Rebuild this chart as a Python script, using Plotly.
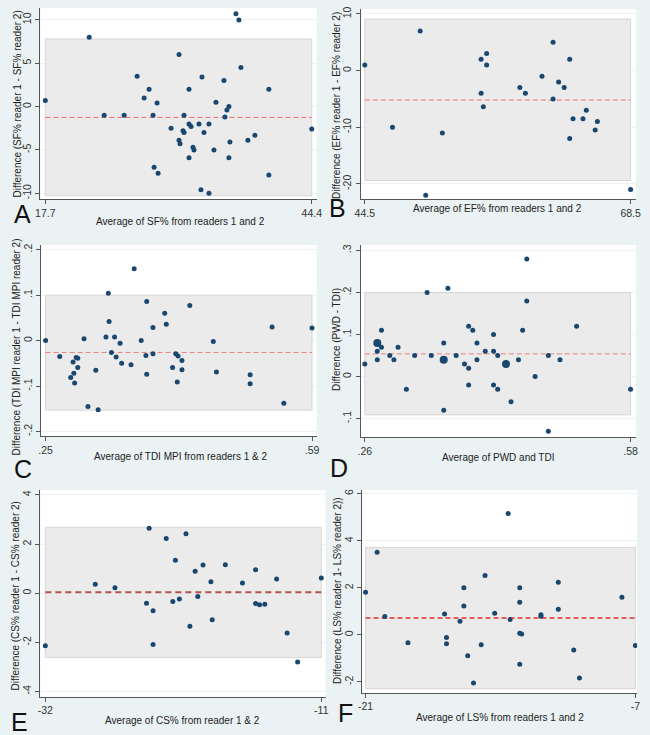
import plotly.graph_objects as go

# ---------------- data ----------------
# Panel A: SF%
a_x = [17.7, 22.1, 23.6, 25.6, 26.9, 27.6, 28.1, 28.5, 28.9, 28.6, 29.0, 30.3, 31.1, 31.1, 31.2, 31.5, 31.6, 31.6, 32.1, 32.1,
       32.3, 32.1, 32.5, 32.6, 33.1, 33.4, 33.3, 33.6, 34.1, 34.1, 34.6, 34.8, 35.6, 35.7, 35.9, 36.1, 36.2, 36.1, 36.8, 37.1,
       37.3, 38.0, 38.7, 40.1, 40.1, 44.4]
a_y = [0.7, 8.0, -1.0, -1.0, 3.5, 1.0, 2.0, -1.0, 0.4, -7.0, -7.7, -2.5, 6.0, -3.9, -4.3, -2.8, -3.0, -1.0, 2.0, -2.0,
       -2.3, -5.9, -4.7, -5.0, -2.0, 3.4, -9.6, -3.0, -2.0, -10.0, -5.0, 0.5, 3.0, -1.2, -0.4, 0.0, -4.1, -5.9, 10.7, 10.0,
       4.5, -3.9, -3.3, 2.0, -7.9, -2.6]
a_stats = [-10.3, -1.25, 7.8]          # lower LoA, mean, upper LoA
a_xticks = [17.7, 44.4]
a_xticktext = ["17.7", "44.4"]
a_yticks = [-10, -5, 0, 5, 10]
a_yticktext = ["-10", "-5", "0", "5", "10"]

# Panel B: EF%
b_x = [44.5, 47.0, 49.5, 50.0, 51.5, 55.0, 55.0, 55.2, 55.5, 55.5, 58.5, 59.0, 60.5, 61.5, 61.5, 62.0, 62.5, 63.0, 63.0, 63.3,
       64.2, 64.5, 65.3, 65.5, 68.5]
b_y = [1, -10, 7, -22, -11, 2, -4, -6.4, 3, 1, -3, -4, -1, 5, -5, -2, -3, 2, -12, -8.5,
       -8.5, -7, -10.5, -9, -21]
b_stats = [-19.4, -5.2, 9.1]
b_xticks = [44.5, 68.5]
b_xticktext = ["44.5", "68.5"]
b_yticks = [-20, -10, 0, 10]
b_yticktext = ["-20", "-10", "0", "10"]

# Panel C: TDI MPI
c_x = [.250, .268, .282, .285, .286, .287, .289, .291, .291, .299, .304, .314, .317, .327, .330, .331, .334, .338, .340, .345,
       .347, .359, .363, .372, .378, .379, .379, .387, .387, .402, .404, .412, .416, .418, .419, .424, .424, .434, .464, .468,
       .511, .511, .539, .554, .590]
c_y = [0, -.035, -.081, -.047, -.072, -.093, -.037, -.039, -.059, .004, -.145, -.065, -.152, .008, .104, .042, -.026, .008, -.036, -.006,
       -.050, -.053, .158, 0, -.033, .086, -.074, .029, -.029, .060, .036, -.059, -.029, -.091, -.034, -.044, -.064, .077, -.002, -.069,
       -.075, -.095, .030, -.138, .028]
c_stats = [-.153, -.026, .100]
c_xticks = [.25, .59]
c_xticktext = [".25", ".59"]
c_yticks = [-.2, -.1, 0, .1, .2]
c_yticktext = ["-.2", "-.1", "0", ".1", ".2"]

# Panel D: PWD vs TDI (d_n = number of coinciding observations)
d_x = [.260, .275, .275, .275, .280, .280, .290, .295, .300, .310, .320, .335, .340, .355, .355, .355, .360, .370, .380, .385,
       .385, .385, .390, .395, .395, .405, .415, .415, .415, .420, .420, .430, .436, .445, .450, .455, .455, .465, .481, .481,
       .495, .515, .580]
d_y = [.03, .08, .06, .04, .11, .07, .05, .04, .07, -.03, .05, .20, .05, .04, .08, -.08, .21, .05, .03, .12,
       .02, -.02, .11, .08, .04, .06, .10, .06, -.02, .05, -.03, .03, -.06, .04, .11, .28, .18, 0, .05, -.13,
       .04, .12, -.03]
d_n = [1, 2, 1, 1, 1, 1, 1, 1, 1, 1, 1, 1, 1, 2, 1, 1, 1, 1, 1, 1,
       1, 1, 1, 1, 1, 1, 1, 1, 1, 1, 1, 2, 1, 1, 1, 1, 1, 1, 1, 1,
       1, 1, 1]
d_stats = [-.091, .054, .200]
d_xticks = [.26, .58]
d_xticktext = [".26", ".58"]
d_yticks = [-.1, 0, .1, .2, .3]
d_yticktext = ["-.1", "0", ".1", ".2", ".3"]

# Panel E: CS%
e_x = [-32.0, -28.2, -26.7, -24.3, -24.1, -23.8, -23.8, -22.8, -22.3, -22.1, -21.8, -21.3, -21.0, -20.6, -20.4, -20.0, -19.4, -19.3,
       -18.3, -17.0, -16.0, -16.0, -15.7, -15.3, -14.4, -13.6, -12.8, -11.0]
e_y = [-2.14, 0.36, 0.22, -0.41, 2.64, -0.72, -2.09, 2.23, -0.34, 1.34, -0.24, 2.42, -1.35, 0.89, -0.14, 1.15, 0.47, -1.08,
       1.16, 0.41, 0.95, -0.42, -0.47, -0.45, 0.58, -1.62, -2.80, 0.62]
e_stats = [-2.62, 0.04, 2.68]
e_xticks = [-32, -11]
e_xticktext = ["-32", "-11"]
e_yticks = [-4, -2, 0, 2, 4]
e_yticktext = ["-4", "-2", "0", "2", "4"]

# Panel F: LS%
f_x = [-21.0, -20.4, -20.0, -18.8, -16.9, -16.8, -16.8, -16.1, -15.9, -15.9, -15.7, -15.4, -15.0, -14.8, -14.3, -13.6, -13.5,
       -13.0, -13.0, -13.0, -13.0, -12.9, -11.9, -11.9, -11.0, -11.0, -10.2, -9.9, -7.7, -7.0]
f_y = [1.81, 3.51, 0.78, -0.34, 0.88, -0.38, -0.11, 0.58, 2.0, 1.23, -0.89, -2.05, -0.42, 2.52, 0.92, 5.16, 0.65,
       2.0, 1.39, -1.25, 0.07, 0.03, 0.85, 0.79, 2.24, 1.09, -0.65, -1.84, 1.60, -0.45]
f_stats = [-2.29, 0.72, 3.72]
f_xticks = [-21, -7]
f_xticktext = ["-21", "-7"]
f_yticks = [-2, 0, 2, 4, 6]
f_yticktext = ["-2", "0", "2", "4", "6"]

# ---------------- styling / layout ----------------
W, H = 650, 735
BG = "#EAF2F3"
NAVY = "#1A476F"
FONT = "Liberation Sans, Arial, sans-serif"
TITLE_SIZE = 10
TICK_SIZE = 10.5


def px_x(p):
    return p / W


def px_y(p):
    return 1 - p / H


panels = [
    dict(letter="A", x=a_x, y=a_y, n=None, stats=a_stats, xt=a_xticks, xtt=a_xticktext, yt=a_yticks, ytt=a_yticktext,
         dom=(35, 316, 5, 197), xr=(17.21, 44.89), yr=(-10.69, 11.38),
         xtitle="Average of SF% from readers 1 and 2", xtp=(177, 219),
         ytitle="Difference (SF% reader 1 - SF% reader 2)", ytp=(12, 101), lp=(17, 212),
         line=dict(color="#EC6A6A", width=1, dash="5px,3px")),
    dict(letter="B", x=b_x, y=b_y, n=None, stats=b_stats, xt=b_xticks, xtt=b_xticktext, yt=b_yticks, ytt=b_yticktext,
         dom=(360.7, 641, 6, 197), xr=(44.12, 69.0), yr=(-22.7, 10.88),
         xtitle="Average of EF% from readers 1 and 2", xtp=(500, 206),
         ytitle="Difference (EF% reader 1 - EF% reader 2)", ytp=(336, 103), lp=(337, 206),
         line=dict(color="#EC6A6A", width=1, dash="5px,3px")),
    dict(letter="C", x=c_x, y=c_y, n=None, stats=c_stats, xt=c_xticks, xtt=c_xticktext, yt=c_yticks, ytt=c_yticktext,
         dom=(35.7, 316, 243, 435), xr=(.2442, .5959), yr=(-.2103, .2103),
         xtitle="Average of TDI MPI from readers 1 & 2", xtp=(177, 455),
         ytitle="Difference (TDI MPI reader 1 - TDI MPI reader 2)", ytp=(11, 345), lp=(17, 468),
         line=dict(color="#EC7C7C", width=1, dash="5px,3px")),
    dict(letter="D", x=d_x, y=d_y, n=d_n, stats=d_stats, xt=d_xticks, xtt=d_xticktext, yt=d_yticks, ytt=d_yticktext,
         dom=(360.7, 641, 243, 435.7), xr=(.2549, .5867), yr=(-.1436, .313),
         xtitle="Average of PWD and TDI", xtp=(500, 456),
         ytitle="Difference (PWD - TDI)", ytp=(336, 338), lp=(339, 467),
         line=dict(color="#EC7C7C", width=1, dash="5px,3px")),
    dict(letter="E", x=e_x, y=e_y, n=None, stats=e_stats, xt=e_xticks, xtt=e_xticktext, yt=e_yticks, ytt=e_yticktext,
         dom=(35, 325, 489, 696.7), xr=(-32.374, -10.68), yr=(-4.22, 4.2),
         xtitle="Average of CS% from reader 1 & 2", xtp=(180, 720),
         ytitle="Difference (CS% reader 1 - CS% reader 2)", ytp=(10, 595), lp=(14, 722),
         line=dict(color="#B4524E", width=2, dash="6px,4px")),
    dict(letter="F", x=f_x, y=f_y, n=None, stats=f_stats, xt=f_xticks, xtt=f_xticktext, yt=f_yticks, ytt=f_yticktext,
         dom=(362.3, 642, 489, 692.7), xr=(-21.175, -6.91), yr=(-2.47, 6.16),
         xtitle="Average of LS% from readers 1 and 2", xtp=(502, 717),
         ytitle="Difference (LS% reader 1- LS% reader 2))", ytp=(337, 590), lp=(345, 713),
         line=dict(color="#E0302C", width=1.5, dash="5px,3px")),
]

fig = go.Figure()
layout = dict(
    width=W, height=H,
    margin=dict(l=0, r=0, t=0, b=0),
    paper_bgcolor=BG, plot_bgcolor="white",
    showlegend=False,
    font=dict(family=FONT, color="#333", size=11),
)
annotations = []

for i, p in enumerate(panels, start=1):
    xa = "x" if i == 1 else f"x{i}"
    ya = "y" if i == 1 else f"y{i}"
    lo, mean, hi = p["stats"]
    xmin, xmax = min(p["x"]), max(p["x"])

    # limits-of-agreement band
    fig.add_trace(go.Scatter(
        x=[xmin, xmax, xmax, xmin, xmin], y=[lo, lo, hi, hi, lo],
        mode="lines", fill="toself", fillcolor="#EBEBEB",
        line=dict(color="#D6D6D6", width=1), xaxis=xa, yaxis=ya, hoverinfo="skip"))
    # mean difference line
    fig.add_trace(go.Scatter(
        x=[xmin, xmax], y=[mean, mean], mode="lines",
        line=p["line"], xaxis=xa, yaxis=ya, hoverinfo="skip"))
    # observations
    sizes = 5 if p["n"] is None else [5 if k == 1 else 8 for k in p["n"]]
    fig.add_trace(go.Scatter(
        x=p["x"], y=p["y"], mode="markers",
        marker=dict(color=NAVY, size=sizes, opacity=1, line=dict(width=0)),
        xaxis=xa, yaxis=ya))

    x0, x1, y0, y1 = p["dom"]
    axis_common = dict(
        showline=True, linecolor="#555555", linewidth=1,
        ticks="outside", ticklen=4, tickcolor="#555555", tickwidth=1,
        zeroline=False, mirror=False,
        tickfont=dict(family=FONT, size=TICK_SIZE, color="#333"),
    )
    layout["xaxis" if i == 1 else f"xaxis{i}"] = dict(
        axis_common, domain=[px_x(x0), min(px_x(x1), 1)], range=list(p["xr"]),
        anchor=ya, tickmode="array", tickvals=p["xt"], ticktext=p["xtt"],
        showgrid=False)
    layout["yaxis" if i == 1 else f"yaxis{i}"] = dict(
        axis_common, domain=[px_y(y1), px_y(y0)], range=list(p["yr"]),
        anchor=xa, tickmode="array", tickvals=p["yt"], ticktext=p["ytt"],
        tickangle=-90, showgrid=True, gridcolor="#EEF2F3", gridwidth=1)

    annotations.append(dict(
        text=p["xtitle"], x=px_x(p["xtp"][0]), y=px_y(p["xtp"][1]), xref="paper", yref="paper",
        showarrow=False, xanchor="center", yanchor="middle",
        font=dict(family=FONT, size=TITLE_SIZE, color="#222")))
    annotations.append(dict(
        text=p["ytitle"], x=px_x(p["ytp"][0]), y=px_y(p["ytp"][1]), xref="paper", yref="paper",
        showarrow=False, xanchor="center", yanchor="middle", textangle=-90,
        font=dict(family=FONT, size=TITLE_SIZE, color="#222")))
    annotations.append(dict(
        text=p["letter"], x=px_x(p["lp"][0]), y=px_y(p["lp"][1]), xref="paper", yref="paper",
        showarrow=False, xanchor="center", yanchor="middle",
        font=dict(family=FONT, size=25, color="#111")))

layout["annotations"] = annotations
fig.update_layout(**layout)
fig.write_html("out.html", config={"displayModeBar": False},
               post_script="document.body.style.margin='0';document.body.style.overflow='hidden';")
